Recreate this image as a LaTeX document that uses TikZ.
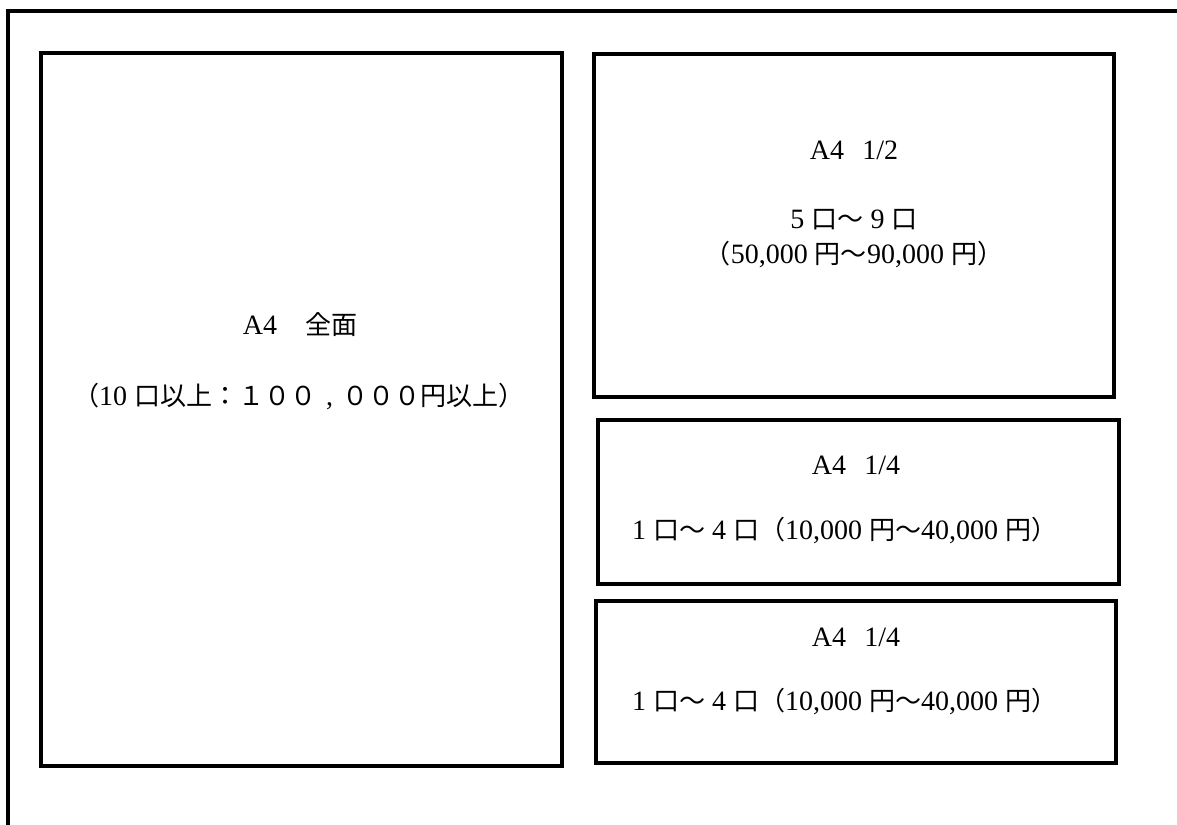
\documentclass[tikz,border=0pt]{standalone}
\usepackage{fontspec}
\setmainfont{Liberation Serif}
\newfontfamily\jp[Scale=0.93]{Noto Sans CJK JP}
\begin{document}
\begin{tikzpicture}[x=0.5pt,y=-0.5pt,line width=2pt,
    txt/.style={inner sep=0pt,font=\fontsize{14}{17}\selectfont}]
  \useasboundingbox (0,0) rectangle (1177,824);
  \clip (0,0) rectangle (1177,824);
  % outer frame, runs off the page at right and bottom
  \draw (8,11) rectangle (1240,880);
  % ad spaces
  \draw (41,53) rectangle (562,766);
  \draw (594,54) rectangle (1114,397);
  \draw (598,420) rectangle (1119,584);
  \draw (596,601) rectangle (1116,763);
  % full page
  \node[txt] (fullA) at (300,325) {A4\hspace{1em}{\jp 全面}};
  \node[txt] (fullB) at (299,397) {{\jp （}10 {\jp 口以上：１００}\makebox[13pt]{,}{\jp ０００円以上）}};
  % half page
  \node[txt] (halfA) at (854,150) {A4\hspace{0.65em}1/2};
  \node[txt] (halfB) at (854,220) {5 {\jp 口～} 9 {\jp 口}};
  \node[txt] (halfC) at (854,255) {{\jp （}50,000 {\jp 円～}90,000 {\jp 円）}};
  % quarter pages
  \node[txt] (qtrA) at (856,465) {A4\hspace{0.65em}1/4};
  \node[txt,anchor=west] (qtrB) at (630,531) {1 {\jp 口～} 4 {\jp 口（}10,000 {\jp 円～}40,000 {\jp 円）}};
  \node[txt] (qtrC) at (856,637) {A4\hspace{0.65em}1/4};
  \node[txt,anchor=west] (qtrD) at (630,702) {1 {\jp 口～} 4 {\jp 口（}10,000 {\jp 円～}40,000 {\jp 円）}};
\end{tikzpicture}
\end{document}
